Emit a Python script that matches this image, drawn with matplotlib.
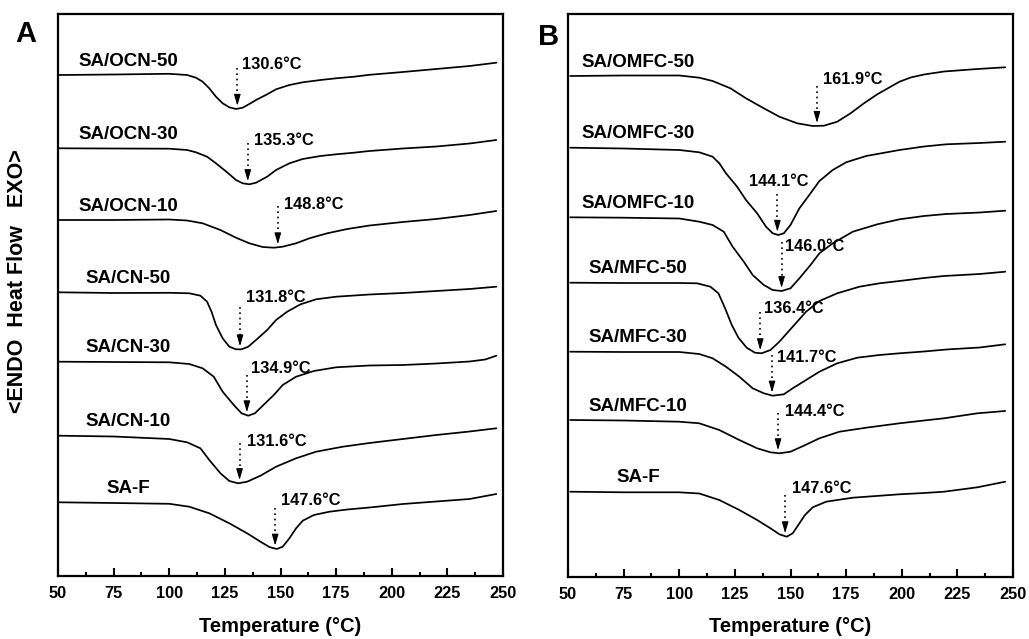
import numpy as np
import matplotlib
matplotlib.use("Agg")
import matplotlib.pyplot as plt
from matplotlib.ticker import MultipleLocator

plt.rcParams['font.family'] = ['Liberation Sans', 'DejaVu Sans']
plt.rcParams['font.weight'] = 'bold'

# ---------------- data (trace readings, endothermic downward, a.u.) ----------------
# Panel A
ocn50_T = [50.5, 75, 100, 108, 112, 115, 118, 121, 124, 127, 130, 133, 136, 139, 144, 148, 154, 160, 168, 175, 183, 190, 205, 220, 235, 247]
ocn50 = [75, 74.5, 73.8, 75, 77.7, 81.7, 88.3, 96.7, 103.3, 107.3, 109, 107.7, 104, 100, 94.3, 89.3, 85, 82.3, 80, 78.3, 76.7, 74.8, 72, 69, 66, 62.7]

ocn30_T = [50.5, 75, 100, 108, 112, 117, 121, 126, 130, 133, 136, 139, 144, 148, 154, 160, 168, 175, 183, 190, 205, 220, 235, 247]
ocn30 = [148.3, 148.5, 148.7, 150, 152.3, 156.7, 163.3, 172.3, 180, 183.3, 184.3, 182.7, 176.7, 170, 163.3, 159, 156, 154.3, 152.7, 151, 148.5, 146.5, 143.5, 140]

ocn10_T = [50.5, 75, 100, 108, 115, 123, 130, 136, 142, 147, 151, 157, 163, 171, 180, 190, 205, 220, 235, 247]
ocn10 = [220, 220, 219.5, 220.5, 223.3, 230, 237.7, 243.3, 247, 247.7, 246.7, 243.3, 238.3, 233.3, 229, 225.5, 222, 219, 215, 211]

cn50_T = [50.5, 75, 100, 109, 114, 117, 119, 121, 124, 127, 130, 132.5, 135.5, 139, 144, 148, 153, 159, 166, 175, 190, 205, 220, 235, 247]
cn50 = [292.3, 293, 292.8, 293.3, 295.7, 301.7, 311.7, 325, 338.3, 346.7, 349.3, 349.3, 346.7, 340, 330, 320, 311.7, 304.3, 299.3, 296.7, 294.5, 293, 291, 289, 286.7]

cn30_T = [50.5, 75, 100, 109, 115, 120, 124, 129, 132.5, 135.5, 138.5, 142, 147, 151, 157, 165, 175, 190, 205, 220, 235, 242, 247]
cn30 = [361.7, 362, 362.3, 364, 368.3, 376.7, 391.7, 405, 413.3, 415.7, 413.3, 405.7, 395, 385, 376.7, 371, 367.3, 365.5, 365, 363.5, 361.5, 359.5, 355.7]

cn10_T = [50.5, 75, 100, 108, 114, 118, 123, 127, 131, 135, 141, 148, 157, 166, 178, 190, 205, 220, 235, 247]
cn10 = [435.7, 436.5, 439, 442.3, 448.3, 460, 473.3, 481, 483.3, 481.7, 475.7, 466.7, 458.3, 451.7, 446.7, 443, 439, 435, 431.5, 428.3]

safa_T = [50.5, 75, 100, 109, 118, 127, 135, 141, 145, 148.3, 151, 154, 157, 160, 165, 172, 180, 190, 205, 220, 235, 247]
safa = [502.3, 503, 503.8, 506.7, 513.3, 523.3, 533.3, 541.7, 547, 549, 546.7, 538.3, 528.3, 520.7, 515, 511.7, 509.5, 507.5, 504, 501.5, 499, 494]

# Panel B
omfc50_T = [51, 75, 100, 109, 115, 123, 130, 138, 145, 153, 160, 165, 171, 177, 183, 189, 195, 199, 204, 210, 219, 234, 246.5]
omfc50 = [76, 75.5, 75.5, 77.7, 81, 88.3, 98.3, 108.3, 116.7, 123.3, 126, 125.7, 121.7, 113.3, 103.3, 94.3, 86.7, 81.7, 77.5, 74.5, 71.5, 69, 67.3]

omfc30_T = [51, 75, 100, 109, 115, 118, 121, 126, 130, 135, 139, 142, 144.5, 147, 150, 154, 159, 163, 169, 175, 184, 199, 210, 220, 235, 246.5]
omfc30 = [147.7, 148.5, 150, 152.3, 156.7, 163.3, 173.3, 186.7, 200, 213.3, 226.7, 233.3, 235, 233.3, 225, 208.3, 193.3, 181, 170, 162.3, 156, 150, 146.5, 144.3, 143, 141.7]

omfc10_T = [51, 75, 100, 109, 115, 120, 124, 129, 133, 138, 142, 146, 150, 154, 159, 163, 169, 178, 189, 199, 210, 220, 235, 246.5]
omfc10 = [217.3, 217.7, 218.5, 221.7, 225, 231.7, 246.7, 261.7, 275, 285, 290, 291, 288.3, 278.3, 265, 253.3, 243.3, 231.7, 224.3, 219.3, 216, 214, 212.5, 210.7]

mfc50_T = [51, 75, 100, 108, 114, 117.6, 120.6, 123.6, 126.6, 130.3, 134, 137, 141, 145, 151, 157, 163, 171, 181, 190, 199, 210, 219, 235, 246.5]
mfc50 = [282.7, 283, 283, 283.3, 286.7, 293.3, 308.3, 325, 337.7, 347.7, 352.7, 353.3, 350, 341.7, 326.7, 311.7, 301, 293.3, 286.7, 283.3, 281, 278, 276, 274, 271.7]

mfc30_T = [51, 75, 100, 109, 115, 121, 127, 133, 138, 142, 147, 151, 157, 163, 171, 180, 190, 199, 210, 220, 235, 246.5]
mfc30 = [351.7, 352, 352, 354, 358.3, 366.7, 376.7, 388.3, 393.3, 395.7, 394.3, 388.3, 380, 371.7, 363.3, 357.7, 355, 353.3, 351.5, 349.5, 347.5, 344.3]

mfc10_T = [51, 75, 100, 109, 118, 127, 135, 141, 145, 150, 156, 163, 172, 184, 199, 210, 219, 234, 246.5]
mfc10 = [420, 420.5, 421.7, 423.3, 430, 440, 448.3, 452.3, 453.3, 451.7, 445.7, 438.3, 431.7, 427.7, 423.3, 420.5, 418.3, 413.3, 411]

safb_T = [51, 75, 100, 109, 118, 127, 135, 141, 145, 148.3, 151, 153.5, 156.5, 160, 166, 178, 199, 210, 219, 234, 246.5]
safb = [491.7, 492.3, 492.3, 493.5, 500, 510, 520, 528.3, 534.3, 536.7, 533.3, 525, 515, 507.3, 501.7, 497.7, 494.3, 493, 491.7, 487.3, 481.7]

names_A = ['SA/OCN-50', 'SA/OCN-30', 'SA/OCN-10', 'SA/CN-50', 'SA/CN-30', 'SA/CN-10', 'SA-F']
peaks_A = [130.6, 135.3, 148.8, 131.8, 134.9, 131.6, 147.6]
names_B = ['SA/OMFC-50', 'SA/OMFC-30', 'SA/OMFC-10', 'SA/MFC-50', 'SA/MFC-30', 'SA/MFC-10', 'SA-F']
peaks_B = [161.9, 144.1, 146.0, 136.4, 141.7, 144.4, 147.6]

xticks = [50, 75, 100, 125, 150, 175, 200, 225, 250]

curves_A = [(ocn50_T, ocn50), (ocn30_T, ocn30), (ocn10_T, ocn10), (cn50_T, cn50),
            (cn30_T, cn30), (cn10_T, cn10), (safa_T, safa)]
curves_B = [(omfc50_T, omfc50), (omfc30_T, omfc30), (omfc10_T, omfc10), (mfc50_T, mfc50),
            (mfc30_T, mfc30), (mfc10_T, mfc10), (safb_T, safb)]

# layout: (arrow length, text dx, text dy, ha) in pixel units
layout_A = [(38, 4.5, -4.3, 'left'), (38, 6.5, -4, 'left'), (38, 6, -2.7, 'left'),
            (39, 5.7, -10.7, 'left'), (37, 4, -7.7, 'left'), (37, 7, -2.3, 'left'),
            (38, 5.7, -7.7, 'left')]
layout_B = [(37, 5.6, -7.4, 'left'), (38, 1.3, -13.3, 'center'), (46, 3.3, 3.3, 'left'),
            (38, 4, -5, 'left'), (38, 5, 1.7, 'left'), (37, 6.6, -2.6, 'left'),
            (38, 6.4, -7.7, 'left')]

W, H = 1029, 639
fig = plt.figure(figsize=(W / 100, H / 100), dpi=100)
axA = fig.add_axes([58 / W, 1 - 576 / H, 445 / W, 562 / H])
axB = fig.add_axes([568 / W, 1 - 577 / H, 445 / W, 563 / H])

PX_PER_DEG = 445 / 200.0


def draw_panel(ax, curves, names, peaks, layout, ylim):
    for (T, v), name, pk, (alen, dx, dy, ha) in zip(curves, names, peaks, layout):
        ax.plot(T, v, color='black', lw=1.25, solid_joinstyle='round', solid_capstyle='round')
        ax.text(81.6, v[0] - 9.3, name, fontsize=13.5, fontweight='bold',
                ha='center', va='baseline')
        tip = np.interp(pk, T, v) - 3
        top = tip - alen
        ax.plot([pk, pk], [top, tip - 6], color='black', lw=1.2,
                linestyle=(0, (1, 2.2)))
        ax.annotate('', xy=(pk, tip), xytext=(pk, tip - 8),
                    arrowprops=dict(arrowstyle='-|>,head_length=0.75,head_width=0.22',
                                    color='black', lw=0.8, shrinkA=0, shrinkB=0,
                                    mutation_scale=9))
        ax.text(pk + dx / PX_PER_DEG, top + dy + 5.5, f'{pk:.1f}\u00b0C',
                fontsize=11.8, fontweight='bold', ha=ha, va='baseline')
    ax.set_xlim(50, 250)
    ax.set_ylim(*ylim)
    ax.set_xticks(xticks)
    ax.set_xticklabels([str(t) for t in xticks])
    ax.xaxis.set_minor_locator(MultipleLocator(12.5))
    ax.set_yticks([])
    ax.tick_params(axis='x', which='major', direction='in', length=5.5, width=1.5,
                   labelsize=11.8, pad=7, top=False)
    ax.tick_params(axis='x', which='minor', direction='in', length=3, width=1.5, top=False)
    for lab in ax.get_xticklabels():
        lab.set_fontweight('bold')
    for s in ax.spines.values():
        s.set_linewidth(1.6)


draw_panel(axA, curves_A, names_A, peaks_A, layout_A, (576, 14))
draw_panel(axB, curves_B, names_B, peaks_B, layout_B, (577, 14))

fig.text(280.5 / W, 1 - 626 / H, 'Temperature (\u00b0C)', fontsize=14.5, fontweight='bold',
         ha='center', va='center')
fig.text(790.5 / W, 1 - 626 / H, 'Temperature (\u00b0C)', fontsize=14.5, fontweight='bold',
         ha='center', va='center')
fig.text(18 / W, 1 - 281 / H, '<ENDO  Heat Flow   EXO>', fontsize=15.5, fontweight='bold',
         rotation=90, ha='center', va='center')
fig.text(25.3 / W, 1 - 41.7 / H, 'A', fontsize=21, fontweight='bold', ha='center', va='baseline')
fig.text(548.7 / W, 1 - 45 / H, 'B', fontsize=21, fontweight='bold', ha='center', va='baseline')

fig.savefig('out.png', dpi=100)
